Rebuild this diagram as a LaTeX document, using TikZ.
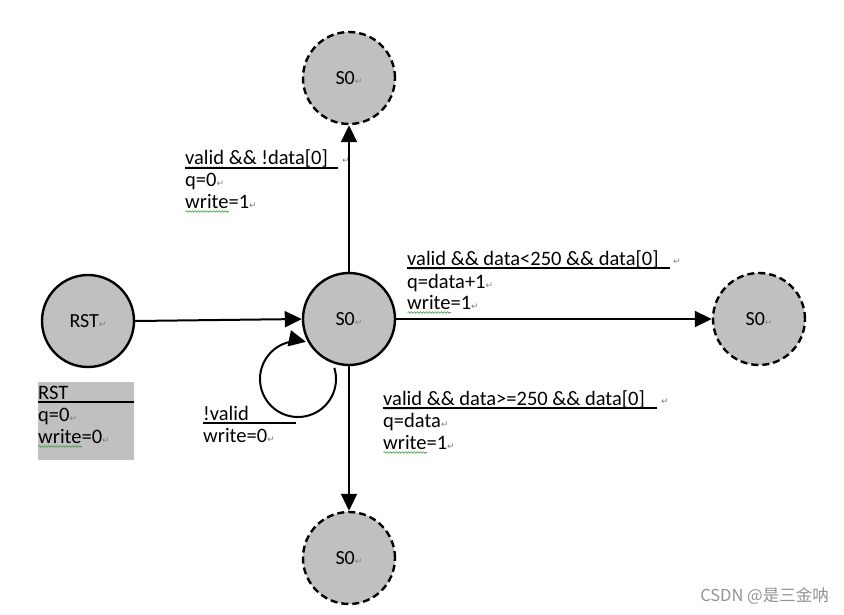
\documentclass[tikz,border=0pt]{standalone}
\usepackage{fontspec}
\setmainfont{Carlito}
\newfontfamily\dv{DejaVu Sans}
\newfontfamily\cjk{Noto Sans CJK SC}
\usetikzlibrary{arrows.meta,decorations.pathmorphing}
\definecolor{stategray}{HTML}{C0C0C0}
\definecolor{sqgreen}{HTML}{3A9A3A}
\newcommand\ret{{\dv\fontsize{9}{9}\selectfont\textcolor{gray}{↵}}}
\newsavebox\sqbox
\newcommand\sq[1]{\sbox\sqbox{#1}\rlap{\raisebox{-3.5pt}{\tikz[baseline=0pt,x=1pt,y=1pt]\draw[sqgreen,line width=0.6pt,decorate,decoration={snake,amplitude=0.8pt,segment length=3pt}] (0pt,0pt)--(\wd\sqbox,0pt);}}\usebox\sqbox}
\begin{document}
\begin{tikzpicture}[x=1pt,y=-1pt,
  state/.style={circle, draw, fill=stategray, line width=2.4pt, minimum size=92pt, inner sep=0pt, font=\fontsize{20}{24}\selectfont},
  ghost/.style={state, dash pattern=on 7pt off 4pt},
  arr/.style={line width=2pt, -{Triangle[length=17pt,width=16pt]}},
  lbl/.style={anchor=base west, inner sep=0pt, font=\fontsize{20.5}{24}\selectfont},
  retn/.style={anchor=base west, inner sep=0pt},
  uln/.style={line width=1.2pt}]
\useasboundingbox (0,0) rectangle (844,614);
% states
\node[state] (rst) at (88,321) {RST\ret};
\node[state] (c) at (349,319) {S0\ret};
\node[ghost] (n) at (349,78) {S0\ret};
\node[ghost] (e) at (759,319) {S0\ret};
\node[ghost] (s) at (349,558) {S0\ret};
% transitions
\draw[arr] (rst.east) -- (c.west);
\draw[arr] (c.north) -- (n.south);
\draw[arr] (c.east) -- (e.west);
\draw[arr] (c.south) -- (s.north);
\coordinate (lc) at (298,379);
\draw[arr] ([shift={(-17:38)}]lc) arc[start angle=-17,end angle=282,radius=38];
% top label
\node[lbl] (t1) at (185,164) {\sq{valid} \&\& !data[0]};
\node[retn] (t1r) at (342,163) {\ret};
\node[lbl] (t2) at (185,186) {q=0\ret};
\node[lbl] (t3) at (185,208) {\sq{write}=1\ret};
\draw[uln] (185,168) -- (338,168);
% right label
\node[lbl] (r1) at (407,265) {\sq{valid} \&\& data<250 \&\& data[0]};
\node[retn] (r1r) at (673,264) {\ret};
\node[lbl] (r2) at (407,288) {q=data+1\ret};
\node[lbl] (r3) at (407,309) {\sq{write}=1\ret};
\draw[uln] (407,268) -- (670,268);
% bottom label
\node[lbl] (b1) at (383,405) {\sq{valid} \&\& data>=250 \&\& data[0]};
\node[retn] (b1r) at (661,404) {\ret};
\node[lbl] (b2) at (383,427) {q=data\ret};
\node[lbl] (b3) at (383,449) {\sq{write}=1\ret};
\draw[uln] (383,408) -- (657,408);
% RST output box
\fill[stategray] (38,382) rectangle (134,460);
\node[lbl] (o1) at (38,399) {RST};
\node[lbl] (o2) at (38,421) {q=0\ret};
\node[lbl] (o3) at (38,443) {\sq{write}=0\ret};
\draw[uln] (38,402) -- (134,402);
% self loop label
\node[lbl] (l1) at (203,420) {!valid};
\node[lbl] (l2) at (203,442) {write=0\ret};
\draw[uln] (203,423) -- (296,423);
% watermark
\node[font=\cjk\fontsize{16.5}{16.5}\selectfont, text=gray!85, anchor=east, inner sep=0pt] (wm) at (829,596) {CSDN @是三金呐};
\end{tikzpicture}
\end{document}
